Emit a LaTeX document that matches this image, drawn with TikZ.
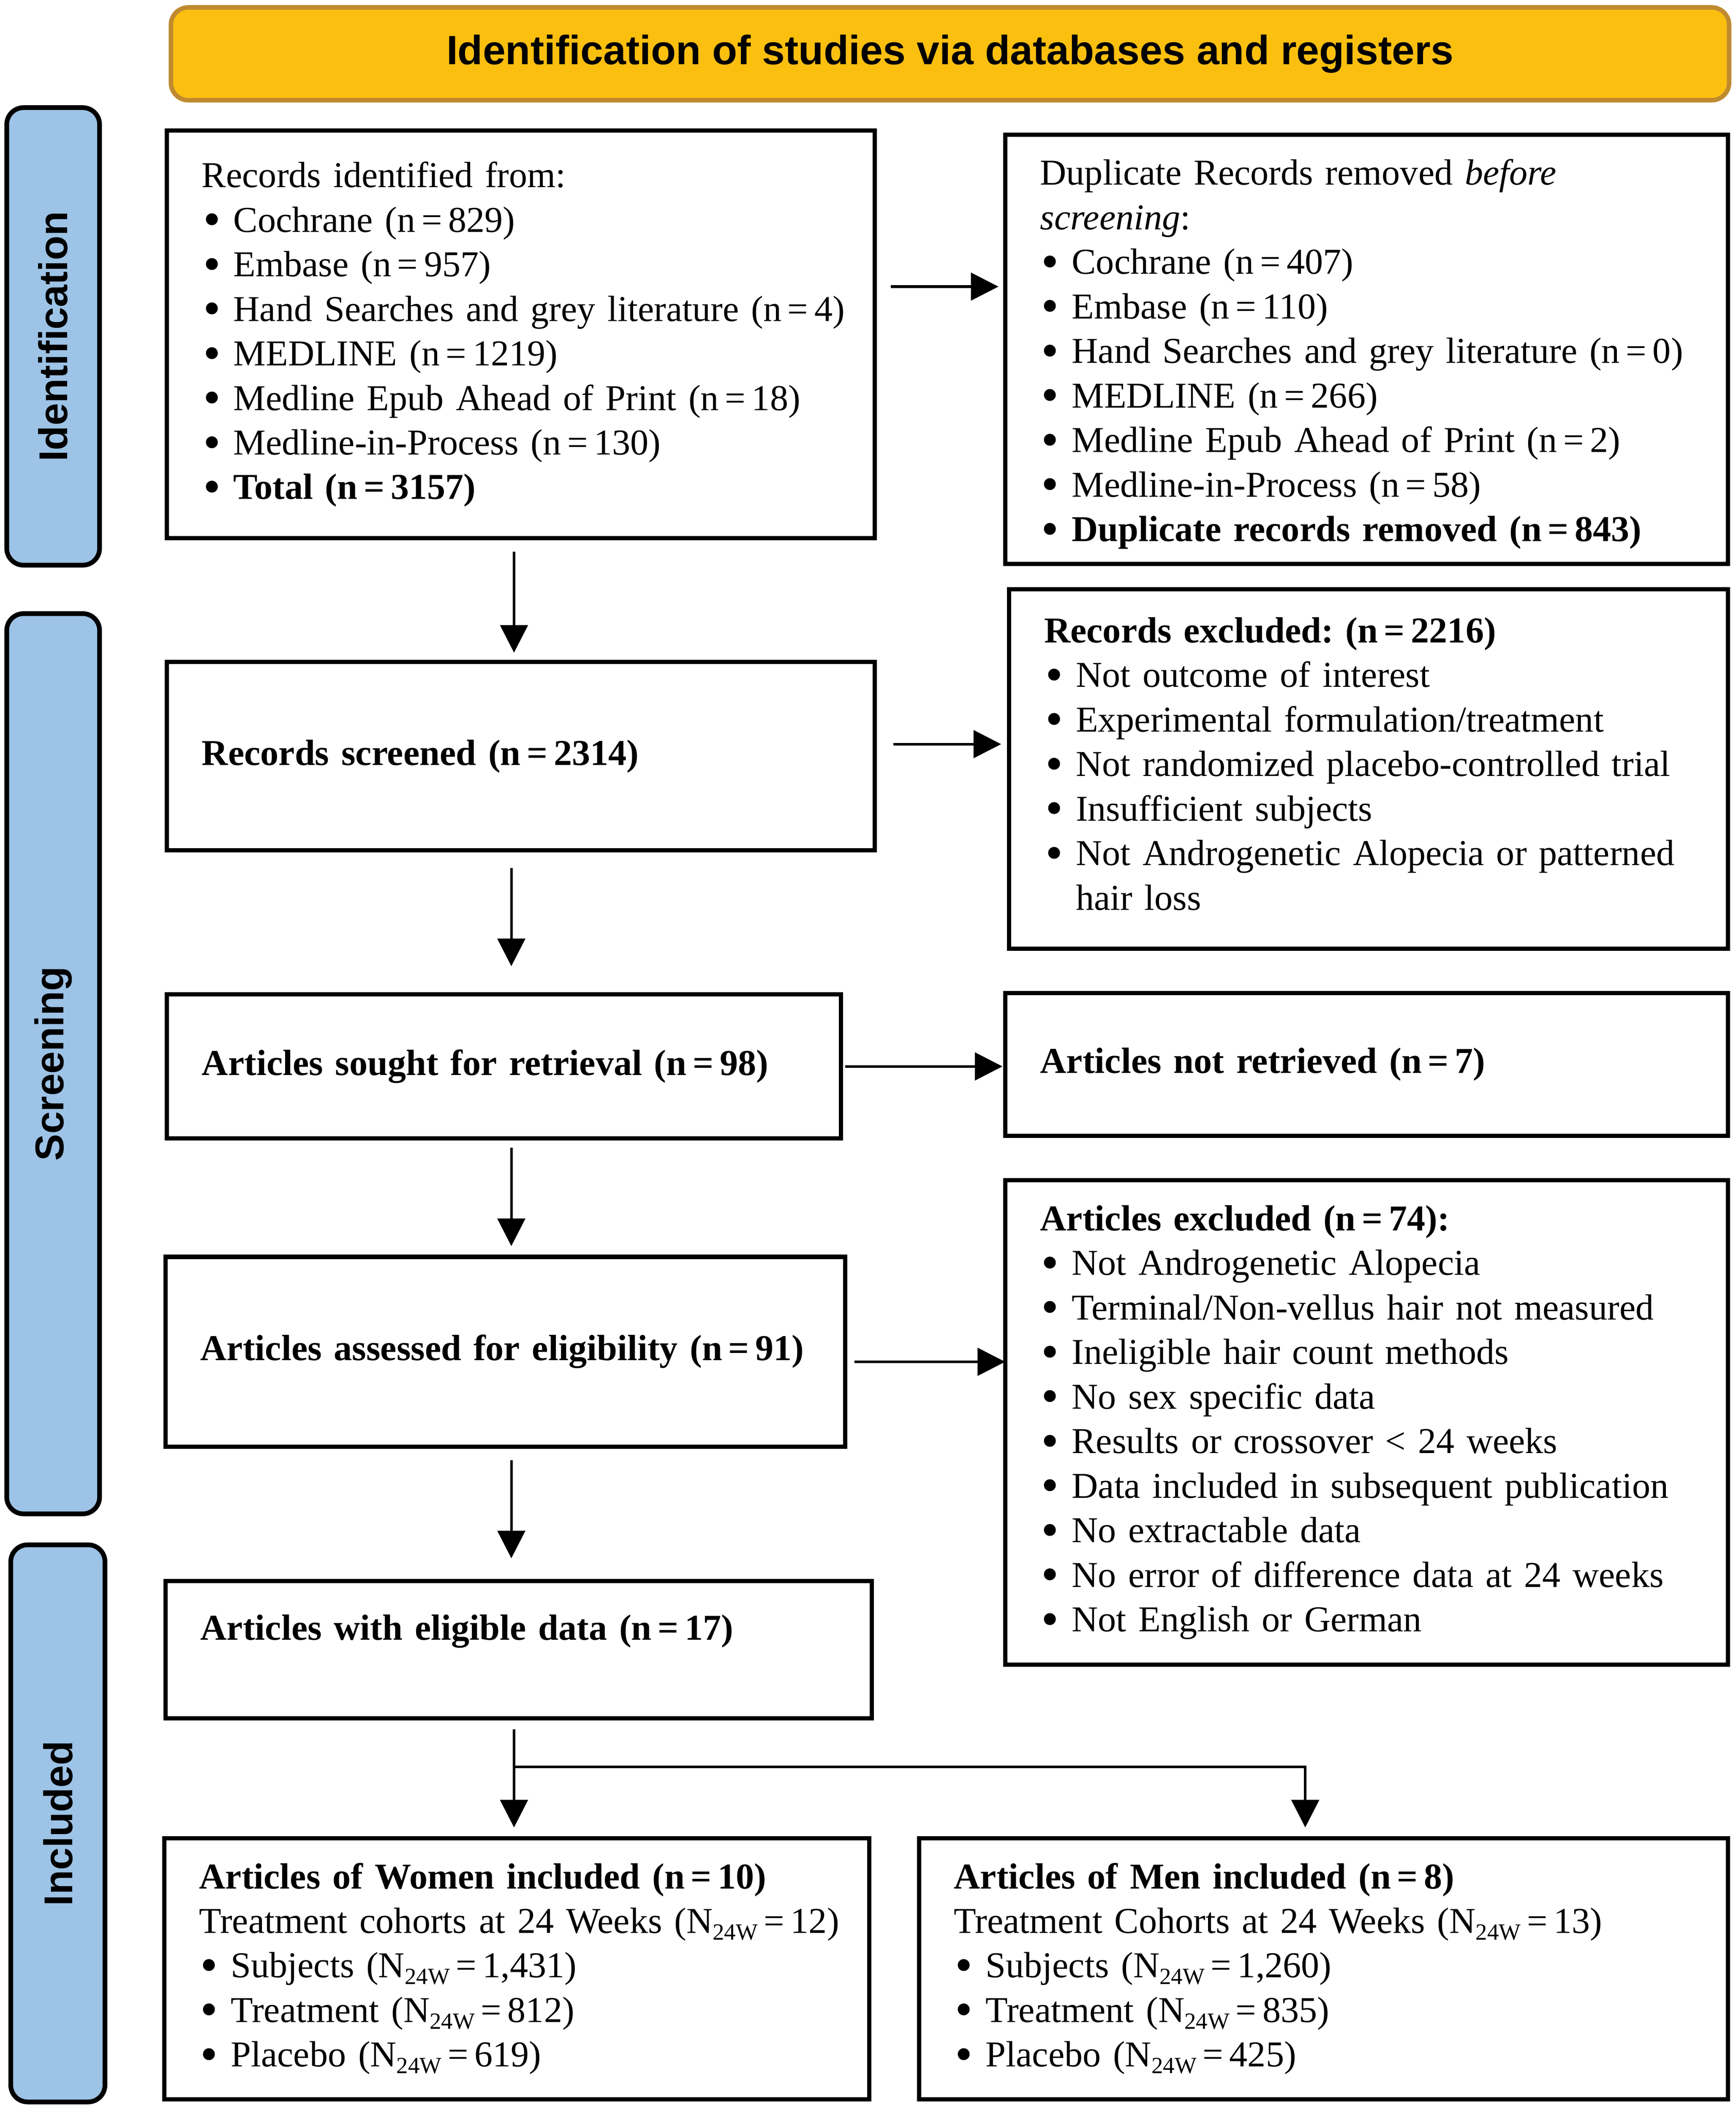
\documentclass[tikz,border=0pt]{standalone}
\usepackage{fontspec}
\setmainfont{Liberation Serif}
\newfontfamily\headfont{Liberation Sans}
\usepackage{xcolor}
\usepackage{tikz}
\usetikzlibrary{shapes,arrows.meta,positioning,calc}

\definecolor{bannergold}{HTML}{FBBF10}
\definecolor{bannerrim}{HTML}{BF8A30}
\definecolor{phaseblue}{HTML}{9DC3E6}

\DeclareRobustCommand{\boxfont}{\fontsize{15.4}{18.84}\selectfont}
\newcommand{\itm}[1]{\mbox{\makebox[0.47cm][l]{\hspace{0.02cm}\raisebox{-0.06cm}{\fontsize{21}{21}\selectfont\textbullet}}#1}}
\newcommand{\eq}{\kern0.17em=\kern0.17em}
\newcommand{\Nw}{N\raisebox{-0.1cm}{\fontsize{9.8}{10}\selectfont 24W}}
\frenchspacing

\begin{document}
\begin{tikzpicture}[
    box/.style={draw, line width=1.8pt, align=left, inner xsep=0.52cm, inner ysep=0.15cm,
        outer sep=0pt, anchor=north west, font=\boxfont},
    phase/.style={draw, line width=2pt, fill=phaseblue, rounded corners=0.25cm, rotate=90,
        minimum height=1.38cm, font=\headfont\bfseries\fontsize{17}{20}\selectfont},
    banner/.style={draw=bannerrim, line width=1.9pt, fill=bannergold, rounded corners=0.26cm,
        minimum width=23.16cm, minimum height=1.38cm, font=\headfont\bfseries\fontsize{17.3}{20}\selectfont},
    arrow/.style={-{Triangle[length=0.41cm, width=0.41cm]}, line width=1.1pt}]

    \useasboundingbox (0,0) rectangle (25.8,-31.39);

    \node[banner] (top) at (14.12,-0.8) {Identification of studies via databases and registers};
    \node[phase, minimum width=6.8cm] (pid) at (0.79,-5.0) {Identification};
    \node[phase, minimum width=13.38cm] (pscr) at (0.79,-15.81) {Screening};
    \node[phase, minimum width=8.28cm, minimum height=1.4cm] (pinc) at (0.86,-27.1) {Included};

    \node[box, text width=9.48cm, minimum height=6.06cm] (rec) at (2.48,-1.94) {Records identified from:\\
        \itm{Cochrane (n\eq 829)}\\
        \itm{Embase (n\eq 957)}\\
        \itm{Hand Searches and grey literature (n\eq 4)}\\
        \itm{MEDLINE (n\eq 1219)}\\
        \itm{Medline Epub Ahead of Print (n\eq 18)}\\
        \itm{Medline-in-Process (n\eq 130)}\\
        \itm{\textbf{Total (n\eq 3157)}}};
    \node[box, text width=9.70cm, minimum height=6.38cm, right=1.94cm of rec.north east, anchor=north west, yshift=-0.06cm] (dup) {\mbox{}\\[-0.13cm]
        Duplicate Records removed \textit{before}\\
        \textit{screening}:\\
        \itm{Cochrane (n\eq 407)}\\
        \itm{Embase (n\eq 110)}\\
        \itm{Hand Searches and grey literature (n\eq 0)}\\
        \itm{MEDLINE (n\eq 266)}\\
        \itm{Medline Epub Ahead of Print (n\eq 2)}\\
        \itm{Medline-in-Process (n\eq 58)}\\
        \itm{\textbf{Duplicate records removed (n\eq 843)}}};

    \node[box, text width=9.48cm, minimum height=2.8cm, below=1.84cm of rec.south west, anchor=north west] (scr) {\textbf{Records screened (n\eq 2314)}};
    \node[box, text width=9.64cm, minimum height=5.34cm, below=0.38cm of dup.south west, anchor=north west, xshift=0.06cm] (exc) {\textbf{Records excluded: (n\eq 2216)}\\
        \itm{Not outcome of interest}\\
        \itm{Experimental formulation/treatment}\\
        \itm{Not randomized placebo-controlled trial}\\
        \itm{Insufficient subjects}\\
        \itm{Not Androgenetic Alopecia or patterned}\\
        \hspace*{0.47cm}hair loss\\[-0.5cm]
        \mbox{}};

    \node[box, text width=8.98cm, minimum height=2.14cm, below=2.14cm of scr.south west, anchor=north west] (srt) {\mbox{\textbf{Articles sought for retrieval (n\eq 98)}}};
    \node[box, text width=9.70cm, minimum height=2.12cm, below=0.66cm of exc.south west, anchor=north west, xshift=-0.06cm] (nret) {\textbf{Articles not retrieved (n\eq 7)}};

    \node[box, text width=9.06cm, minimum height=2.82cm, below=1.76cm of srt.south west, anchor=north west, xshift=-0.02cm] (elig) {\mbox{\textbf{Articles assessed for eligibility (n\eq 91)}}};
    \node[box, text width=9.70cm, minimum height=7.2cm, below=0.66cm of nret.south west, anchor=north west] (aexc) {\textbf{Articles excluded (n\eq 74):}\\
        \itm{Not Androgenetic Alopecia}\\
        \itm{Terminal/Non-vellus hair not measured}\\
        \itm{Ineligible hair count methods}\\
        \itm{No sex specific data}\\
        \itm{Results or crossover < 24 weeks}\\
        \itm{Data included in subsequent publication}\\
        \itm{No extractable data}\\
        \itm{No error of difference data at 24 weeks}\\
        \itm{Not English or German}};

    \node[box, text width=9.46cm, minimum height=2.04cm, below=2.0cm of elig.south west, anchor=north west] (data) {\textbf{Articles with eligible data (n\eq 17)}\\ \mbox{}};

    \node[box, text width=9.44cm, minimum height=3.88cm, below=1.78cm of data.south west, anchor=north west, xshift=-0.02cm] (wom) {\mbox{\textbf{Articles of Women included (n\eq 10)}}\\
        \mbox{Treatment cohorts at 24 Weeks (\Nw\eq 12)}\\
        \itm{Subjects (\Nw\eq 1,431)}\\
        \itm{Treatment (\Nw\eq 812)}\\
        \itm{Placebo (\Nw\eq 619)}};
    \node[box, text width=10.98cm, minimum height=3.88cm, right=0.74cm of wom.north east, anchor=north west] (men) {\mbox{\textbf{Articles of Men included (n\eq 8)}}\\
        \mbox{Treatment Cohorts at 24 Weeks (\Nw\eq 13)}\\
        \itm{Subjects (\Nw\eq 1,260)}\\
        \itm{Treatment (\Nw\eq 835)}\\
        \itm{Placebo (\Nw\eq 425)}};

    \draw[arrow] ($(rec.east)+(0.24,0.71)$) -- ($(rec.east -| dup.west)+(-0.1,0.71)$);
    \draw[arrow] ($(rec.south)+(-0.1,-0.2)$) -- ($(scr.north)+(-0.1,0.14)$);
    \draw[arrow] ($(scr.east)+(0.28,0.18)$) -- ($(scr.east -| exc.west)+(-0.12,0.18)$);
    \draw[arrow] ($(scr.south)+(-0.14,-0.26)$) -- ($(scr.south |- srt.north)+(-0.14,0.42)$);
    \draw[arrow] ($(srt.east)+(0.06,0)$) -- ($(srt.east -| nret.west)+(-0.04,0)$);
    \draw[arrow] ($(srt.south)+(0.11,-0.14)$) -- ($(srt.south |- elig.north)+(0.11,0.16)$);
    \draw[arrow] ($(elig.east)+(0.14,-0.15)$) -- ($(elig.east -| aexc.west)+(0,-0.15)$);
    \draw[arrow] ($(elig.south)+(0.09,-0.2)$) -- ($(elig.south |- data.north)+(0.09,0.34)$);

    \coordinate (split) at ($(data.south)+(-0.07,-0.72)$);
    \draw[arrow] ($(data.south)+(-0.07,-0.16)$) -- (split) -- ($(split |- wom.north)+(0,0.16)$);
    \draw[arrow] (split) -| ($(men.north)+(-0.27,0.16)$);
\end{tikzpicture}
\end{document}
